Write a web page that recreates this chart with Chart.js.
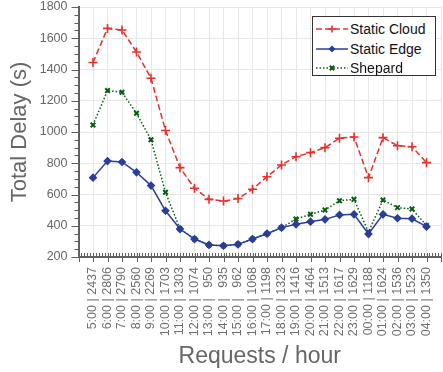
<!DOCTYPE html>
<html>
<head>
<meta charset="UTF-8">
<title>Total Delay</title>
<script src="https://cdn.jsdelivr.net/npm/chart.js@4.4.0/dist/chart.umd.min.js"></script>
<style>
  html, body { margin: 0; padding: 0; background: #fff; }
  #wrap { position: relative; width: 443px; height: 372px; }
  #legend {
    position: absolute; left: 312px; top: 16px; width: 124px; height: 60px;
    background: #fff; border: 1px solid #333; box-sizing: border-box;
    font-family: "Liberation Sans", Arial, Helvetica, sans-serif; font-size: 14px; color: #111;
  }
  #legend .row { position: absolute; left: 2px; height: 20px; line-height: 20px; white-space: nowrap; }
  #legend svg { position: absolute; left: 0; top: 4px; }
  #legend span { position: absolute; left: 35px; top: 0; }
</style>
</head>
<body>
<div id="wrap">
  <canvas id="myChart" width="443" height="372"></canvas>
  <div id="legend"></div>
</div>
<script>
var hours = ['5:00', '6:00', '7:00', '8:00', '9:00', '10:00', '11:00', '12:00', '13:00', '14:00', '15:00', '16:00',
             '17:00', '18:00', '19:00', '20:00', '21:00', '22:00', '23:00', '00:00', '01:00', '02:00', '03:00', '04:00'];
var requests = [2437, 2806, 2790, 2560, 2269, 1703, 1303, 1074, 950, 935, 962, 1068,
                1198, 1323, 1416, 1464, 1513, 1617, 1629, 1188, 1624, 1536, 1523, 1350];

var staticCloud = [1445, 1663, 1653, 1512, 1344, 1010, 772, 640, 569, 558, 574, 634,
                   714, 789, 842, 868, 900, 960, 968, 708, 964, 912, 906, 804];
var staticEdge = [708, 814, 808, 742, 657, 496, 379, 315, 277, 272, 281, 315,
                  349, 388, 409, 426, 441, 469, 473, 347, 473, 448, 445, 394];
var shepard = [1045, 1265, 1254, 1120, 950, 614, 380, 315, 277, 272, 281, 315,
               349, 388, 443, 473, 501, 560, 569, 360, 565, 516, 507, 402];

var yTicks = [200, 400, 600, 800, 1000, 1200, 1400, 1600, 1800];

var FONT = '"Liberation Sans", Arial, Helvetica, sans-serif';

function pad(n) {
  var s = String(n);
  while (s.length < 4) s = '\u2007' + s;
  return s;
}
var tickLabels = hours.map(function(h, i) { return h + ' | ' + pad(requests[i]); });

function pts(arr) {
  return arr.map(function(v, i) { return { x: i, y: v }; });
}

var seriesStyle = [
  { label: 'Static Cloud', data: staticCloud, color: '#e8302b', dash: [6, 3], point: 'cross', r: 4.5, pw: 1.6 },
  { label: 'Static Edge', data: staticEdge, color: '#2b3d9c', dash: [], point: 'rectRot', r: 3.5, pw: 1.2 },
  { label: 'Shepard', data: shepard, color: '#0b5c12', dash: [1.5, 2], point: 'crossRot', r: 3.2, pw: 2 }
];

var axisTicks = {
  id: 'axisTicks',
  afterDraw: function(chart) {
    var ctx = chart.ctx, x = chart.scales.x, y = chart.scales.y, a = chart.chartArea;
    ctx.save();
    ctx.strokeStyle = '#606060';
    ctx.lineWidth = 1;
    ctx.beginPath();
    for (var v = 200; v <= 1800; v += 50) {
      var py = Math.round(y.getPixelForValue(v)) + 0.5;
      var len = v % 200 === 0 ? 7 : 4;
      ctx.moveTo(a.left - len, py);
      ctx.lineTo(a.left, py);
    }
    for (var i = -5; i <= 125; i++) {
      var px = Math.round(x.getPixelForValue(i / 5)) + 0.5;
      if (i % 5 === 0) {
        ctx.moveTo(px, a.bottom + 5);
        ctx.lineTo(px, a.bottom - 4);
      } else {
        ctx.moveTo(px, a.bottom);
        ctx.lineTo(px, a.bottom - 4);
      }
    }
    ctx.stroke();
    ctx.restore();
  }
};

var ctx = document.getElementById('myChart').getContext('2d');
var myChart = new Chart(ctx, {
  type: 'line',
  data: {
    datasets: seriesStyle.map(function(s) {
      return {
        label: s.label,
        data: pts(s.data),
        borderColor: s.color,
        backgroundColor: s.color,
        borderWidth: 1.5,
        borderDash: s.dash,
        pointStyle: s.point,
        pointRadius: s.r,
        pointBorderWidth: s.pw,
        pointBorderColor: s.color,
        pointBackgroundColor: s.color,
        tension: 0,
        fill: false
      };
    })
  },
  options: {
    responsive: false,
    animation: false,
    devicePixelRatio: 1,
    layout: { autoPadding: false, padding: { top: 7, right: 2, left: 0, bottom: 0 } },
    plugins: { legend: { display: false }, tooltip: { enabled: false } },
    scales: {
      x: {
        type: 'linear',
        min: -1,
        max: 24,
        afterFit: function(scale) {
          scale.height = 115;
          scale.paddingLeft = 0;
          scale.paddingRight = 0;
        },
        afterBuildTicks: function(scale) {
          var t = [];
          for (var i = -1; i <= 24; i++) t.push({ value: i });
          scale.ticks = t;
        },
        ticks: {
          autoSkip: false,
          minRotation: 90,
          maxRotation: 90,
          padding: 10,
          color: '#6e6e6e',
          font: { family: FONT, size: 12.5 },
          callback: function(v) { return tickLabels[v] || ''; }
        },
        grid: { color: '#e6e6e6', lineWidth: 1, drawTicks: false },
        border: { color: '#606060', width: 2 },
        title: {
          display: true,
          text: 'Requests / hour',
          color: '#666',
          font: { family: FONT, size: 23 },
          padding: { top: 0, bottom: 2 }
        }
      },
      y: {
        min: 200,
        max: 1800,
        afterFit: function(scale) {
          scale.width = 78.5;
          scale.paddingTop = 0;
          scale.paddingBottom = 0;
        },
        afterBuildTicks: function(scale) {
          scale.ticks = yTicks.map(function(v) { return { value: v }; });
        },
        ticks: {
          padding: 11,
          color: '#666',
          font: { family: FONT, size: 12.5 },
          callback: function(v) { return String(v); }
        },
        grid: { color: '#e6e6e6', lineWidth: 1, drawTicks: false },
        border: { color: '#606060', width: 2 },
        title: {
          display: true,
          text: 'Total Delay (s)',
          color: '#666',
          font: { family: FONT, size: 22 },
          padding: { top: 7, bottom: 0 }
        }
      }
    }
  },
  plugins: [axisTicks]
});

// legend box drawn over the plot, entries taken from the datasets
var legend = document.getElementById('legend');
seriesStyle.forEach(function(s, i) {
  var row = document.createElement('div');
  row.className = 'row';
  row.style.top = (2 + i * 19.5) + 'px';
  var mk = '';
  if (s.point === 'cross') {
    mk = '<path d="M17 2.5 V9.5 M13.5 6 H20.5" stroke="' + s.color + '" stroke-width="1.6"/>';
  } else if (s.point === 'rectRot') {
    mk = '<path d="M17 2.5 L20.5 6 L17 9.5 L13.5 6 Z" fill="' + s.color + '"/>';
  } else {
    mk = '<path d="M14.8 3.8 L19.2 8.2 M19.2 3.8 L14.8 8.2" stroke="' + s.color + '" stroke-width="2"/>';
  }
  var dash = s.dash.length ? ' stroke-dasharray="' + s.dash.join(',') + '"' : '';
  row.innerHTML = '<svg width="34" height="12"><line x1="1" y1="6" x2="33" y2="6" stroke="' + s.color +
    '" stroke-width="1.5"' + dash + '/>' + mk + '</svg><span>' + s.label + '</span>';
  legend.appendChild(row);
});
</script>
</body>
</html>
